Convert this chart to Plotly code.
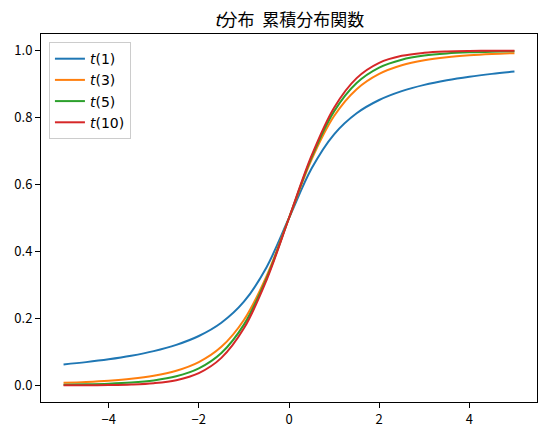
import plotly.graph_objects as go

# x grid and CDF values of the t distribution
x = [-5.0, -4.5, -4.0, -3.5, -3.0, -2.5, -2.0, -1.5, -1.0, -0.5, 0.0,
     0.5, 1.0, 1.5, 2.0, 2.5, 3.0, 3.5, 4.0, 4.5, 5.0]

pos_t1 = [0.64758, 0.75000, 0.81283, 0.85242, 0.87888, 0.89758, 0.91141, 0.92202, 0.93039, 0.93717]
pos_t3 = [0.67428, 0.80450, 0.88471, 0.93034, 0.95614, 0.97117, 0.98027, 0.98600, 0.98975, 0.99231]
pos_t5 = [0.68097, 0.81839, 0.90305, 0.94903, 0.97276, 0.98495, 0.99138, 0.99484, 0.99680, 0.99795]
pos_t10 = [0.68605, 0.82955, 0.91775, 0.96331, 0.98428, 0.99333, 0.99713, 0.99874, 0.99943, 0.99973]

def full(pos):
    # right half given; the left half mirrors it
    return [round(1 - v, 5) for v in pos[::-1]] + [0.5] + pos

series = {
    "<i>t</i>(1)": (full(pos_t1), "#1f77b4"),
    "<i>t</i>(3)": (full(pos_t3), "#ff7f0e"),
    "<i>t</i>(5)": (full(pos_t5), "#2ca02c"),
    "<i>t</i>(10)": (full(pos_t10), "#d62728"),
}

fig = go.Figure()
for name, (y, color) in series.items():
    fig.add_trace(go.Scatter(
        x=x, y=y, mode="lines", name=name,
        line=dict(color=color, width=2, shape="spline", smoothing=1.0),
    ))

axis_common = dict(
    showline=True, linecolor="black", linewidth=1, mirror=True,
    ticks="outside", ticklen=5, tickcolor="black", tickwidth=1,
    showgrid=False, zeroline=False, automargin=False,
    tickfont=dict(family="Noto Sans CJK JP", size=13, color="black"),
)
fig.update_xaxes(range=[-5.5, 5.5], tickvals=[-4, -2, 0, 2, 4], **axis_common)
fig.update_yaxes(range=[-0.0495, 1.0495], tickvals=[0.0, 0.2, 0.4, 0.6, 0.8, 1.0],
                 tickformat=".1f", **axis_common)

# the page adds an 8px body margin, so the margins are shifted to compensate
fig.update_layout(
    width=546, height=436,
    margin=dict(l=33, r=17, t=26, b=42),
    paper_bgcolor="white", plot_bgcolor="white",
    title=dict(text="<i>t</i>分布  累積分布関数", x=0.515, xanchor="center", y=0.972, yanchor="middle",
               font=dict(family="Noto Sans CJK JP", size=17, color="black")),
    legend=dict(x=0.016, y=0.978, xanchor="left", yanchor="top",
                bgcolor="rgba(255,255,255,0.8)", bordercolor="#cccccc", borderwidth=1,
                font=dict(family="DejaVu Sans", size=14, color="black"),
                tracegroupgap=0, itemwidth=30),
    showlegend=True,
)

fig.write_html("out.html")
